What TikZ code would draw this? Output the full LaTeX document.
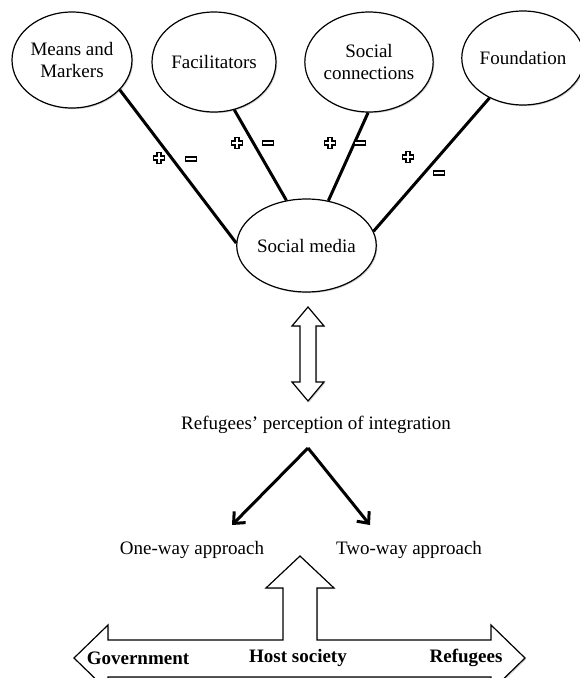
\documentclass[tikz,border=0pt]{standalone}
\usepackage{fontspec}
\setmainfont{Liberation Serif}
\usetikzlibrary{shapes.geometric,arrows.meta,shadows}

\tikzset{
  bubble/.style={ellipse, draw, line width=1.2pt, fill=white, inner sep=0pt, align=center,
    drop shadow={shadow xshift=1.2pt, shadow yshift=-1.2pt, opacity=0.35}},
  link/.style={line width=3pt},
  fork/.style={line width=3pt, -{Straight Barb[length=9pt, width=16pt, line width=3pt]}},
  blockarrow/.style={draw, line width=1.2pt, fill=white,
    drop shadow={shadow xshift=1.2pt, shadow yshift=-1.2pt, opacity=0.35}},
  boldlabel/.style={font=\fontsize{19}{22}\selectfont\bfseries},
  plussign/.pic={
    \draw[line width=5.4pt, line cap=rect] (-3.4,0) -- (3.4,0) (0,-3.4) -- (0,3.4);
    \draw[white, line width=2.8pt, line cap=rect] (-3.4,0) -- (3.4,0) (0,-3.4) -- (0,3.4);
  },
  minussign/.pic={
    \draw[line width=5.4pt, line cap=rect] (-3.6,0) -- (3.6,0);
    \draw[white, line width=2.8pt, line cap=rect] (-3.6,0) -- (3.6,0);
  }
}

\begin{document}
\begin{tikzpicture}[x=1pt, y=-1pt, font=\fontsize{19}{22}\selectfont]
\useasboundingbox (0,0) rectangle (579,678);
% the four ellipses on top
\node[bubble, minimum width=120pt, minimum height=96pt] (means) at (72,60) {Means and\\Markers};
\node[bubble, minimum width=124pt, minimum height=100pt] (facil) at (214,62) {Facilitators};
\node[bubble, minimum width=124pt, minimum height=100pt] (conn) at (369,62) {Social\\connections};
\node[bubble, minimum width=120pt, minimum height=94pt] (found) at (523,58) {Foundation};
\node[bubble, minimum width=123pt, minimum height=93pt] (media) at (306.5,245.5) {Social media};
\draw[link](means.-32) -- (media.178);
\draw[link](facil.-67) -- (media.114);
\draw[link](conn.-91) -- (media.64);
\draw[link](found.-130) -- (media.12);
\pic at (159,158) {plussign};
\pic at (191,159) {minussign};
\pic at (237,143) {plussign};
\pic at (268,143) {minussign};
\pic at (330,143) {plussign};
\pic at (360,143) {minussign};
\pic at (408,157) {plussign};
\pic at (439,173) {minussign};
% double arrow between social media and perception
\draw[blockarrow] (308,307) -- (324,326) -- (316,326) -- (316,382) -- (324,382) -- (308,401)
  -- (292,382) -- (300,382) -- (300,326) -- (292,326) -- cycle;
\node (percep) at (316,425) {Refugees’ perception of integration};
\coordinate (apex) at (308,448);
\coordinate (tipone) at (232,525);
\coordinate (tiptwo) at (370,525);
\draw[fork](apex) -- (tipone);
\draw[fork](apex) -- (tiptwo);
\node (oneway) at (192,550) {One-way approach};
\node (twoway) at (409,550) {Two-way approach};
% bottom arrows
\draw[blockarrow] (74,658) -- (108,625) -- (108,640) -- (283,640) -- (283,588) -- (266,588)
  -- (300,556) -- (334,588) -- (317,588) -- (317,640) -- (491,640) -- (491,625) -- (525,658)
  -- (491,691) -- (491,677) -- (108,677) -- (108,691) -- cycle;
\node[boldlabel] (govt) at (138,658) {Government};
\node[boldlabel] (host) at (298,658) {Host society};
\node[boldlabel] (refug) at (466,658) {Refugees};
\end{tikzpicture}
\end{document}
